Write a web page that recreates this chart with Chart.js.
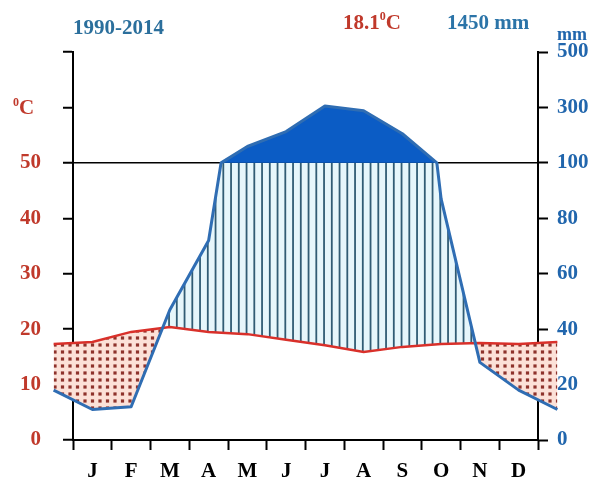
<!DOCTYPE html>
<html lang="en">
<head>
<meta charset="UTF-8" />
<title>Climate diagram 1990-2014</title>
<script src="https://cdn.jsdelivr.net/npm/chart.js"></script>
<style>
  html, body { margin: 0; padding: 0; background: #fff; }
  #wrap { width: 595px; height: 483px; }
</style>
</head>
<body>
<div id="wrap"><canvas id="chart" width="595" height="483"></canvas></div>
<script>
// data
const months = ["J", "F", "M", "A", "M", "J", "J", "A", "S", "O", "N", "D"];
const tempC = [17.7, 19.5, 20.4, 19.5, 19.1, 18.1, 17.1, 15.9, 16.8, 17.3, 17.5, 17.3];
const precipMm = [11, 12, 47, 72, 159, 213, 305, 288, 205, 87, 28, 18];
const tempTicks = [0, 10, 20, 30, 40, 50, 60, 70];
const mmTicks = [0, 20, 40, 60, 80, 100, 300, 500];
const period = "1990-2014";
const meanTemp = "18.1";
const totalPrecip = "1450 mm";

const RED = "#c0392b";
const BLUE = "#2166ad";
const FONT = "'Liberation Serif', 'Times New Roman', serif";

// December before January and January after December, as the diagram does
function wrapSeries(arr) {
  const pts = [{ x: 0, y: arr[arr.length - 1] }];
  arr.forEach((v, i) => pts.push({ x: i + 1, y: v }));
  pts.push({ x: arr.length + 1, y: arr[0] });
  return pts;
}

// precipitation scale: 20 mm = 10 °C up to 100 mm, then 200 mm = 10 °C
class WalterScale extends Chart.LinearScale {
  getPixelForValue(v) {
    if (v === null || v === undefined) return NaN;
    const t = v <= 100 ? v / 2 : 50 + (v - 100) / 20;
    return this.getPixelForDecimal(t / 70);
  }
  getValueForPixel(px) {
    const t = this.getDecimalForPixel(px) * 70;
    return t <= 50 ? t * 2 : 100 + (t - 50) * 20;
  }
}
WalterScale.id = "walter";
WalterScale.defaults = Chart.LinearScale.defaults;
Chart.register(WalterScale);

function tempPixels(chart) {
  const xs = chart.scales.x, ys = chart.scales.y;
  return chart.data.datasets[0].data.map(p => [xs.getPixelForValue(p.x), ys.getPixelForValue(p.y)]);
}

function precipPixels(chart) {
  const xs = chart.scales.x, ym = chart.scales.mm;
  const pts = chart.data.datasets[1].data;
  const out = [];
  pts.forEach((p, i) => {
    if (i > 0) {
      const q = pts[i - 1];
      // segment crosses the 100 mm scale break: bend it there
      if ((q.y - 100) * (p.y - 100) < 0) {
        const xc = q.x + (p.x - q.x) * (100 - q.y) / (p.y - q.y);
        out.push([xs.getPixelForValue(xc), ym.getPixelForValue(100)]);
      }
    }
    out.push([xs.getPixelForValue(p.x), ym.getPixelForValue(p.y)]);
  });
  return out;
}

function clipBand(ctx, pts, edgeY) {
  ctx.beginPath();
  ctx.moveTo(pts[0][0], edgeY);
  pts.forEach(p => ctx.lineTo(p[0], p[1]));
  ctx.lineTo(pts[pts.length - 1][0], edgeY);
  ctx.closePath();
  ctx.clip();
}

const walterPlugin = {
  id: "walterFills",
  beforeDatasetsDraw(chart) {
    const { ctx, chartArea, width } = chart;
    const t = tempPixels(chart);
    const p = precipPixels(chart);
    const y100 = chart.scales.mm.getPixelForValue(100);
    const bottom = chartArea.bottom;

    // humid season: vertical hatch
    ctx.save();
    clipBand(ctx, p, bottom);
    clipBand(ctx, t, 0);
    ctx.beginPath();
    ctx.rect(0, y100, width, bottom - y100);
    ctx.clip();
    ctx.fillStyle = "#e6f6fb";
    ctx.fillRect(0, y100, width, bottom - y100);
    ctx.strokeStyle = "#315c74";
    ctx.lineWidth = 1.8;
    ctx.beginPath();
    for (let x = 6.3; x < width; x += 7.75) {
      ctx.moveTo(x, y100);
      ctx.lineTo(x, bottom);
    }
    ctx.stroke();
    ctx.restore();

    // above 100 mm: solid blue
    ctx.save();
    clipBand(ctx, p, bottom);
    ctx.fillStyle = "#0b5cc5";
    ctx.fillRect(0, 0, width, y100);
    ctx.restore();

    // dry season: dots
    ctx.save();
    clipBand(ctx, t, bottom);
    clipBand(ctx, p, 0);
    ctx.fillStyle = "#fce1d8";
    ctx.fillRect(0, 0, width, bottom);
    ctx.fillStyle = "#8e322b";
    for (let x = 2.5; x < width; x += 7.5) {
      for (let y = 2; y < bottom; y += 7) {
        ctx.fillRect(x - 1.6, y - 1.6, 3.2, 3.2);
      }
    }
    ctx.restore();
  },
  afterDatasetsDraw(chart) {
    const { ctx } = chart;
    const p = precipPixels(chart);
    ctx.save();
    ctx.strokeStyle = "#2f6db3";
    ctx.lineWidth = 3;
    ctx.lineJoin = "round";
    ctx.beginPath();
    p.forEach((pt, i) => i ? ctx.lineTo(pt[0], pt[1]) : ctx.moveTo(pt[0], pt[1]));
    ctx.stroke();
    ctx.restore();
  },
  afterDraw(chart) {
    const { ctx } = chart;
    const y60 = chart.scales.y.getPixelForValue(60);
    ctx.save();
    ctx.textBaseline = "alphabetic";
    ctx.textAlign = "left";
    ctx.font = "bold 21px " + FONT;
    ctx.fillStyle = "#2b6f9c";
    ctx.fillText(period, 73, 34);

    // mean temperature with a small raised 0
    ctx.fillStyle = RED;
    let x = 343;
    ctx.fillText(meanTemp, x, 29);
    x += ctx.measureText(meanTemp).width;
    ctx.font = "bold 12px " + FONT;
    ctx.fillText("0", x, 20);
    x += ctx.measureText("0").width;
    ctx.font = "bold 21px " + FONT;
    ctx.fillText("C", x, 29);

    ctx.fillStyle = "#2b74a8";
    ctx.fillText(totalPrecip, 447, 29);

    ctx.fillStyle = BLUE;
    ctx.font = "bold 18px " + FONT;
    ctx.fillText("mm", 557, 40);

    // unit of the left axis
    ctx.fillStyle = RED;
    ctx.font = "bold 12px " + FONT;
    ctx.fillText("0", 13, y60 - 1);
    ctx.font = "bold 21px " + FONT;
    ctx.fillText("C", 19, y60 + 7);
    ctx.restore();
  }
};

new Chart(document.getElementById("chart"), {
  type: "line",
  data: {
    datasets: [
      {
        label: "Temperature (°C)",
        data: wrapSeries(tempC),
        yAxisID: "y",
        borderColor: "#d9302a",
        borderWidth: 2.5,
        pointRadius: 0,
        tension: 0,
        clip: false
      },
      {
        label: "Precipitation (mm)",
        data: wrapSeries(precipMm),
        yAxisID: "mm",
        showLine: false,
        pointRadius: 0,
        clip: false
      }
    ]
  },
  options: {
    responsive: false,
    animation: false,
    layout: { padding: { top: 52, left: 0, right: 0, bottom: 0 } },
    font: { family: FONT },
    plugins: { legend: { display: false }, tooltip: { enabled: false } },
    scales: {
      x: {
        type: "linear",
        min: 0.5,
        max: 12.5,
        afterBuildTicks: s => {
          const ticks = [];
          for (let v = 0.5; v <= 12.5; v += 0.5) ticks.push({ value: v });
          s.ticks = ticks;
        },
        afterFit: s => { s.height = 43; },
        ticks: {
          autoSkip: false,
          maxRotation: 0,
          padding: 9,
          color: "#000",
          font: { family: FONT, size: 21, weight: "bold" },
          callback: v => Number.isInteger(v) ? months[v - 1] : ""
        },
        grid: {
          drawOnChartArea: false,
          tickLength: 10,
          tickWidth: 2,
          tickColor: c => (c.tick && c.tick.value % 1 !== 0) ? "#000" : "rgba(0,0,0,0)"
        },
        border: { color: "#000", width: 2 }
      },
      y: {
        position: "left",
        min: 0,
        max: 70,
        afterBuildTicks: s => { s.ticks = tempTicks.map(v => ({ value: v })); },
        afterFit: s => { s.width = 73; },
        ticks: {
          color: RED,
          padding: 22,
          font: { family: FONT, size: 21, weight: "bold" },
          callback: v => v <= 50 ? String(v) : ""
        },
        grid: {
          color: c => (c.tick && c.tick.value === 50) ? "#000" : "rgba(0,0,0,0)",
          lineWidth: 1.5,
          tickLength: 10,
          tickWidth: 2,
          tickColor: "#000"
        },
        border: { color: "#000", width: 2 }
      },
      mm: {
        type: "walter",
        position: "right",
        min: 0,
        max: 500,
        afterBuildTicks: s => { s.ticks = mmTicks.map(v => ({ value: v })); },
        afterFit: s => { s.width = 57; },
        ticks: {
          color: BLUE,
          padding: 9,
          font: { family: FONT, size: 21, weight: "bold" },
          callback: v => String(v)
        },
        grid: {
          drawOnChartArea: false,
          tickLength: 10,
          tickWidth: 2,
          tickColor: "#000"
        },
        border: { color: "#000", width: 2 }
      }
    }
  },
  plugins: [walterPlugin]
});
</script>
</body>
</html>
